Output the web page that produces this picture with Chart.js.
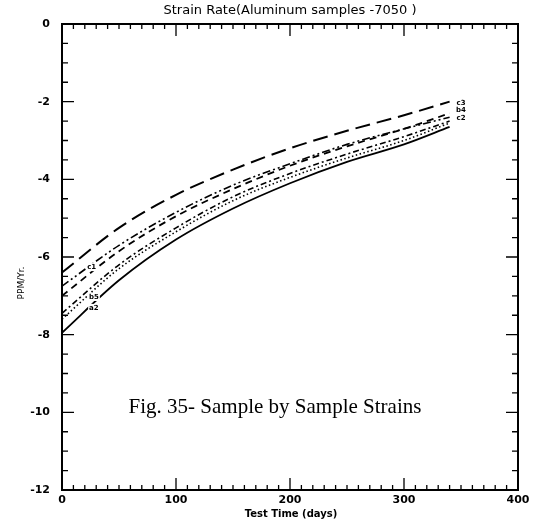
<!DOCTYPE html>
<html>
<head>
<meta charset="utf-8">
<script src="https://cdn.jsdelivr.net/npm/chart.js@4"></script>
<style>
  html, body { margin: 0; padding: 0; background: #fff; }
  #wrap { position: relative; width: 538px; height: 524px; }
</style>
</head>
<body>
<div id="wrap"><canvas id="c" width="538" height="524"></canvas></div>
<script>
// Test time (days) at which each sample curve is sampled
const days = [0, 50, 100, 150, 200, 250, 300, 340];

// Strain rate (PPM/Yr.) per sample
const sampleC3 = [-6.4, -5.25, -4.4, -3.75, -3.2, -2.75, -2.35, -2.0];
const sampleC1 = [-6.75, -5.7, -4.85, -4.15, -3.6, -3.1, -2.7, -2.4];
const sampleB4 = [-7.0, -5.85, -4.95, -4.25, -3.65, -3.15, -2.7, -2.3];
const sampleB5 = [-7.45, -6.2, -5.25, -4.45, -3.85, -3.35, -2.9, -2.5];
const sampleC2 = [-7.6, -6.3, -5.35, -4.55, -3.95, -3.45, -3.0, -2.55];
const sampleA2 = [-7.95, -6.6, -5.55, -4.75, -4.1, -3.55, -3.1, -2.65];

// Axis ticks
const yTickLabels = [0, -2, -4, -6, -8, -10, -12];
const xTickLabels = [0, 100, 200, 300, 400];

// Curve tags: text, day, strain rate where each tag sits
const tagText = ['c1', 'b5', 'a2', 'c3', 'b4', 'c2'];
const tagDay = [26, 28, 28, 350, 350, 350];
const tagRate = [-6.26, -7.03, -7.31, -2.05, -2.22, -2.42];

const toPoints = vals => days.map((d, i) => ({ x: d, y: vals[i] }));

function series(label, vals, dash, width) {
  return {
    label,
    data: toPoints(vals),
    borderColor: '#000',
    borderWidth: width,
    borderDash: dash,
    pointRadius: 0,
    fill: false,
    cubicInterpolationMode: 'monotone'
  };
}

// Frame, inward tick marks on all four sides, and the texts drawn on the canvas
const framePlugin = {
  id: 'frame',
  afterDraw(chart) {
    const { ctx, chartArea: a, scales: { x, y } } = chart;
    ctx.save();
    ctx.strokeStyle = '#000';
    ctx.lineWidth = 2;
    ctx.strokeRect(a.left, a.top, a.right - a.left, a.bottom - a.top);

    ctx.lineWidth = 1.3;
    ctx.beginPath();
    for (let v = 0; v <= 400; v += 10) {
      const px = x.getPixelForValue(v);
      const len = v % 100 === 0 ? 12 : 5;
      ctx.moveTo(px, a.bottom); ctx.lineTo(px, a.bottom - len);
      ctx.moveTo(px, a.top); ctx.lineTo(px, a.top + len);
    }
    for (let v = 0; v >= -12; v -= 0.5) {
      const py = y.getPixelForValue(v);
      const len = v % 2 === 0 ? 12 : 6;
      ctx.moveTo(a.left, py); ctx.lineTo(a.left + len, py);
      ctx.moveTo(a.right, py); ctx.lineTo(a.right - len, py);
    }
    ctx.stroke();

    ctx.fillStyle = '#000';
    ctx.textAlign = 'center';
    ctx.textBaseline = 'middle';
    ctx.font = '13px "DejaVu Sans", sans-serif';
    ctx.fillText('Strain Rate(Aluminum samples -7050 )', 290, 11);

    ctx.font = 'bold 10px "DejaVu Sans", sans-serif';
    ctx.fillText('Test Time (days)', 291, 514);

    ctx.save();
    ctx.translate(22, 283);
    ctx.rotate(-Math.PI / 2);
    ctx.font = '9px "DejaVu Sans", sans-serif';
    ctx.fillText('PPM/Yr.', 0, 0);
    ctx.restore();

    ctx.font = '21px "Liberation Serif", serif';
    ctx.fillText('Fig. 35- Sample by Sample Strains', 275, 407);

    // curve tags sit in small gaps cut out of the lines
    ctx.font = 'bold 7px "DejaVu Sans", sans-serif';
    tagText.forEach((t, i) => {
      const px = x.getPixelForValue(tagDay[i]);
      const py = y.getPixelForValue(tagRate[i]);
      const w = ctx.measureText(t).width;
      ctx.fillStyle = '#fff';
      ctx.fillRect(px - w / 2 - 1, py - 4, w + 2, 8);
      ctx.fillStyle = '#000';
      ctx.fillText(t, px, py);
    });
    ctx.restore();
  }
};

new Chart(document.getElementById('c'), {
  type: 'line',
  data: {
    datasets: [
      series('c3', sampleC3, [15, 7], 2),
      series('c1', sampleC1, [8, 3, 2, 3, 2, 3], 1.6),
      series('b4', sampleB4, [7, 5], 1.8),
      series('b5', sampleB5, [6, 3, 2, 3], 1.6),
      series('c2', sampleC2, [1.5, 2.5], 1.6),
      series('a2', sampleA2, [], 1.8)
    ]
  },
  options: {
    responsive: false,
    animation: false,
    layout: { padding: { left: 0, top: 24, right: 20, bottom: 0 } },
    plugins: { legend: { display: false }, tooltip: { enabled: false } },
    scales: {
      x: {
        type: 'linear', min: 0, max: 400,
        afterFit: s => { s.height = 34; },
        afterBuildTicks: s => { s.ticks = xTickLabels.map(v => ({ value: v })); },
        grid: { display: false },
        border: { display: false },
        ticks: { color: '#000', font: { size: 11, weight: 'bold', family: 'DejaVu Sans' }, padding: -4, maxRotation: 0 }
      },
      y: {
        type: 'linear', min: -12, max: 0,
        afterFit: s => { s.width = 62; },
        afterBuildTicks: s => { s.ticks = yTickLabels.map(v => ({ value: v })); },
        grid: { display: false },
        border: { display: false },
        ticks: { color: '#000', font: { size: 11, weight: 'bold', family: 'DejaVu Sans' }, padding: 4 }
      }
    }
  },
  plugins: [framePlugin]
});
</script>
</body>
</html>
